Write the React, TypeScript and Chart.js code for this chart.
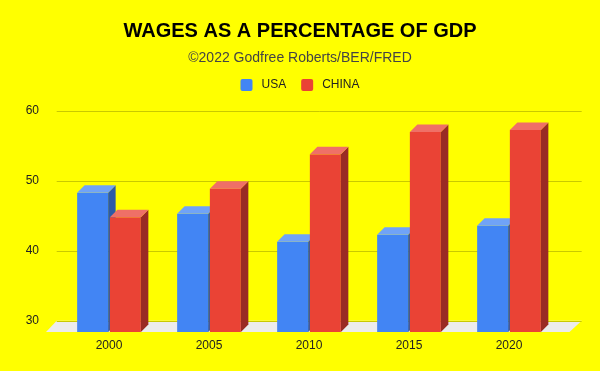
import { useEffect, useRef } from "react";
import { Chart, registerables } from "chart.js";

Chart.register(...registerables);

const categories = ["2000", "2005", "2010", "2015", "2020"];
const usaValues = [48.3, 45.3, 41.3, 42.3, 43.6];
const chinaValues = [44.8, 48.9, 53.8, 57.0, 57.3];
const yTicks = [30, 40, 50, 60];
const seriesLabels = ["USA", "CHINA"];
const Y_MIN = 28.4;
const Y_MAX = 60;

const TITLE = "WAGES AS A PERCENTAGE OF GDP";
const SUBTITLE = "\u00A92022 Godfree Roberts/BER/FRED";

const FONT = "'Liberation Sans', Arial, Helvetica, sans-serif";
const FRONT = ["#4285F4", "#EA4335"];
const TOP = ["#70A3F7", "#EF7067"];
const SIDE = ["#2D5BA6", "#9A2B24"];
const DX = 7.5;
const DY = 7.5;

const bar3d = {
  id: "bar3d",
  beforeDraw(chart: any) {
    const { ctx, width, height } = chart;
    ctx.save();
    ctx.fillStyle = "#ffff00";
    ctx.fillRect(0, 0, width, height);
    ctx.restore();
  },
  beforeDatasetsDraw(chart: any) {
    const { ctx, chartArea } = chart;
    const yScale = chart.scales.y;
    const L = chartArea.left;
    const R = chartArea.right;
    const B = chartArea.bottom;
    const backY = yScale.getPixelForValue(yTicks[0]);
    ctx.save();
    // floor
    ctx.fillStyle = "#ececec";
    ctx.beginPath();
    ctx.moveTo(L - 13, B);
    ctx.lineTo(R + 10.5, B);
    ctx.lineTo(R + 22.7, backY);
    ctx.lineTo(L - 2.3, backY);
    ctx.closePath();
    ctx.fill();
    // gridlines on back wall
    ctx.strokeStyle = "#c9c900";
    ctx.lineWidth = 1;
    yTicks.forEach((v) => {
      const py = Math.round(yScale.getPixelForValue(v)) + 0.5;
      ctx.beginPath();
      ctx.moveTo(L - 2.3, py);
      ctx.lineTo(R + 22.7, py);
      ctx.stroke();
    });
    ctx.restore();
  },
  beforeDatasetDraw() {
    return false;
  },
  afterDatasetsDraw(chart: any) {
    const { ctx } = chart;
    const n = chart.data.labels.length;
    const metas = chart.data.datasets.map((_: any, i: number) => chart.getDatasetMeta(i));
    ctx.save();
    for (let i = 0; i < n; i++) {
      metas.forEach((meta: any, di: number) => {
        const el = meta.data[i];
        if (!el) return;
        const { x, y, base, width } = el.getProps(["x", "y", "base", "width"], true);
        const l = x - width / 2;
        const r = x + width / 2;
        // front
        ctx.fillStyle = FRONT[di];
        ctx.fillRect(l, y, width, base - y);
        // side
        ctx.fillStyle = SIDE[di];
        ctx.beginPath();
        ctx.moveTo(r, y);
        ctx.lineTo(r + DX, y - DY);
        ctx.lineTo(r + DX, base - DY);
        ctx.lineTo(r, base);
        ctx.closePath();
        ctx.fill();
        // top
        ctx.fillStyle = TOP[di];
        ctx.beginPath();
        ctx.moveTo(l, y);
        ctx.lineTo(l + DX, y - DY);
        ctx.lineTo(r + DX, y - DY);
        ctx.lineTo(r, y);
        ctx.closePath();
        ctx.fill();
      });
    }
    ctx.restore();
  },
  afterDraw(chart: any) {
    const { ctx, width } = chart;
    const cx = width / 2;
    ctx.save();
    ctx.textAlign = "center";
    ctx.textBaseline = "middle";
    ctx.fillStyle = "#000000";
    ctx.font = `bold 20px ${FONT}`;
    ctx.fillText(TITLE, cx, 31);
    ctx.fillStyle = "#444444";
    ctx.font = `14px ${FONT}`;
    ctx.fillText(SUBTITLE, cx, 58);

    // legend
    ctx.font = `12px ${FONT}`;
    const box = 12;
    const gap = 9;
    const spacing = 15;
    const items = chart.data.datasets.map((ds: any, i: number) => ({
      text: ds.label,
      color: FRONT[i],
      w: box + gap + ctx.measureText(ds.label).width,
    }));
    const total = items.reduce((s: number, it: any) => s + it.w, 0) + spacing * (items.length - 1);
    let x = cx - total / 2;
    const ly = 85;
    ctx.textAlign = "left";
    items.forEach((it: any) => {
      ctx.fillStyle = it.color;
      ctx.beginPath();
      if ((ctx as any).roundRect) (ctx as any).roundRect(x, ly - box / 2, box, box, 2);
      else ctx.rect(x, ly - box / 2, box, box);
      ctx.fill();
      ctx.fillStyle = "#222222";
      ctx.fillText(it.text, x + box + gap, ly);
      x += it.w + spacing;
    });
    ctx.restore();
  },
};

export default function App() {
  const ref = useRef<HTMLCanvasElement>(null);
  useEffect(() => {
    const canvas = ref.current;
    if (!canvas) return;
    const chart = new Chart(canvas, {
      type: "bar",
      data: {
        labels: categories,
        datasets: [
          {
            label: seriesLabels[0],
            data: usaValues,
            backgroundColor: FRONT[0],
            borderWidth: 0,
            base: Y_MIN,
            categoryPercentage: 0.654,
            barPercentage: 0.948,
          },
          {
            label: seriesLabels[1],
            data: chinaValues,
            backgroundColor: FRONT[1],
            borderWidth: 0,
            base: Y_MIN,
            categoryPercentage: 0.654,
            barPercentage: 0.948,
          },
        ],
      },
      options: {
        responsive: false,
        animation: false,
        devicePixelRatio: 1,
        layout: { padding: { top: 111, left: 8, right: 41, bottom: 0 } },
        plugins: {
          legend: { display: false },
          title: { display: false },
          tooltip: { enabled: false },
        },
        scales: {
          x: {
            type: "category",
            grid: { display: false, drawTicks: false },
            border: { display: false },
            ticks: { color: "#222222", font: { family: FONT, size: 12 }, padding: 6 },
            afterFit: (s: any) => {
              s.height = 39;
            },
          },
          y: {
            type: "linear",
            min: Y_MIN,
            max: Y_MAX,
            grid: { display: false, drawTicks: false },
            border: { display: false },
            ticks: { color: "#222222", font: { family: FONT, size: 12 }, padding: 20 },
            afterBuildTicks: (s: any) => {
              s.ticks = yTicks.map((v) => ({ value: v }));
            },
            afterFit: (s: any) => {
              s.width = 51;
            },
          },
        },
      },
      plugins: [bar3d],
    } as any);
    return () => chart.destroy();
  }, []);
  return (
    <div
      style={{
        position: "fixed",
        left: 0,
        top: 0,
        width: 600,
        height: 371,
        background: "#ffff00",
      }}
    >
      <canvas ref={ref} width={600} height={371} style={{ display: "block", width: 600, height: 371 }} />
    </div>
  );
}
